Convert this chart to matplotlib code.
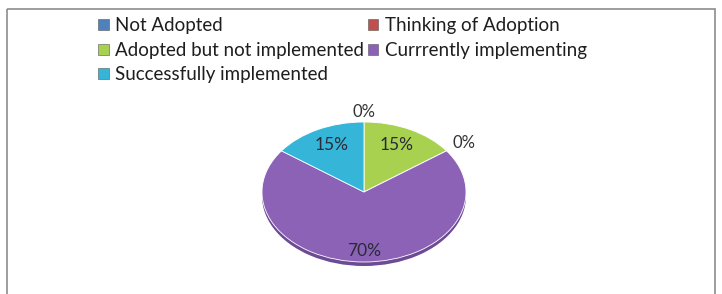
import matplotlib
matplotlib.use("Agg")
import matplotlib.pyplot as plt
import numpy as np
from matplotlib.patches import Rectangle

# data (pie drawn clockwise from the top in this order)
pie_labels = ["Not Adopted", "Adopted but not implemented", "Thinking of Adoption",
              "Currrently implementing", "Successfully implemented"]
pie_values = [0, 15, 0, 70, 15]
pie_colors = ["#4f81bd", "#a8d14f", "#c0504d", "#8b62b6", "#35b6d8"]
pie_dark = ["#3a6090", "#7e9c3a", "#903c3a", "#6c4a94", "#2a88a2"]

# legend rows as in the original: Not Adopted | Thinking / Adopted | Currently / Successfully
legend_order = ["Not Adopted", "Adopted but not implemented", "Successfully implemented",
                "Thinking of Adoption", "Currrently implementing"]

W, H = 722, 294
fig = plt.figure(figsize=(W / 100, H / 100), dpi=100)
fig.patch.set_facecolor("white")
FONT = "Lato"

# chart frame
frame = fig.add_axes([0, 0, 1, 1])
frame.set_xlim(0, W)
frame.set_ylim(H, 0)
frame.axis("off")
frame.add_patch(Rectangle((7, 9), 708, 300, fill=False, ec="#8c8c8c", lw=1.2))

# pie axes, squashed into an ellipse
cx, cy, a, b, depth = 364, 192, 102, 70, 4
x0, x1 = cx - a, cx + a
y_top, y_bot = cy - b, cy + b + depth
ax = fig.add_axes([x0 / W, 1 - y_bot / H, (x1 - x0) / W, (y_bot - y_top) / H])
d = depth / b

# side of the 3d pie
ax.pie(pie_values, colors=pie_dark, startangle=90, counterclock=False,
       center=(0, -d), radius=1, wedgeprops=dict(lw=0))
ax.pie(pie_values, colors=pie_colors, startangle=90, counterclock=False,
       radius=1, wedgeprops=dict(lw=0.6, ec="#ffffff"))
ax.set_xlim(-1, 1)
ax.set_ylim(-1 - d, 1)
ax.set_aspect("auto")
ax.axis("off")

ang = 90.0
for lab, v in zip(pie_labels, pie_values):
    span = v / sum(pie_values) * 360
    mid = np.deg2rad(ang - span / 2)
    if v == 0:
        if abs(np.cos(mid)) < 0.2:
            t = ax.text(0, 1.03, "0%", ha="center", va="bottom",
                        fontsize=12, color="#333333", family=FONT)
        else:
            t = ax.text(1.02 * np.cos(mid) + 0.04, 1.02 * np.sin(mid) + 0.1, "0%",
                        ha="left", va="center", fontsize=12, color="#333333", family=FONT)
    else:
        r = 0.7 if v < 50 else 0.8
        t = ax.text(r * np.cos(mid), r * np.sin(mid) + (0.05 if v < 50 else -0.05),
                    f"{v}%", ha="center", va="center", fontsize=12.5,
                    color="#2a2a3a", family=FONT)
    t.set_clip_on(False)
    ang -= span

# legend
handles = {lab: Rectangle((0, 0), 1, 1, fc=c, ec="#555555", lw=0.4)
           for lab, c in zip(pie_labels, pie_colors)}
leg = fig.legend([handles[k] for k in legend_order], legend_order, ncol=2,
                 loc="upper left", bbox_to_anchor=(89 / W, 1 - 8 / H),
                 frameon=False, prop=dict(family=FONT, size=13.5),
                 handlelength=0.55, handleheight=0.55, handletextpad=0.35,
                 columnspacing=0.2, labelspacing=0.4, borderpad=0)
for t in leg.get_texts():
    t.set_color("#1e1e1e")

fig.savefig("out.png", dpi=100)
